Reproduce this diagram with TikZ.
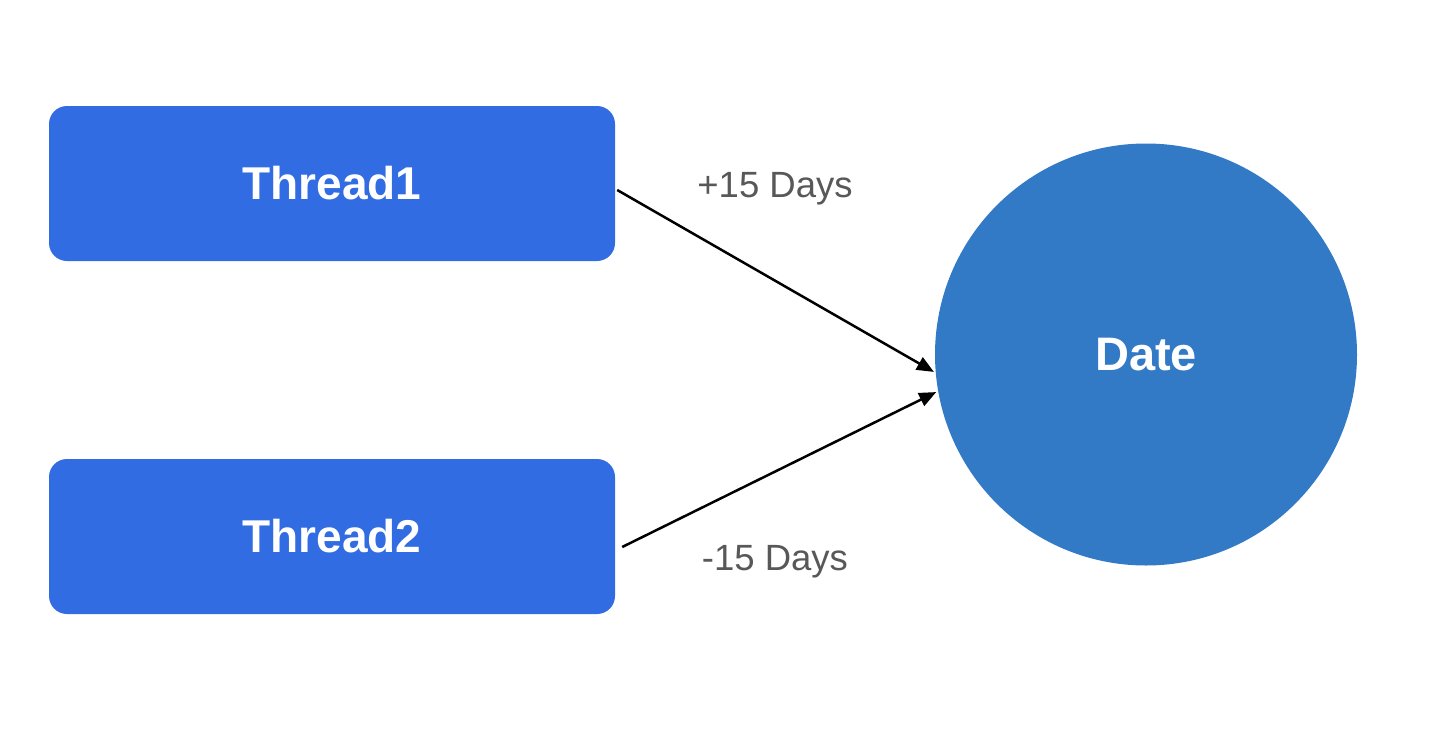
\documentclass[tikz,border=0pt]{standalone}
\usepackage{fontspec}
\setmainfont{Liberation Sans}
\usetikzlibrary{arrows.meta,calc}
\definecolor{boxblue}{RGB}{50,108,227}
\definecolor{circblue}{RGB}{50,121,198}
\definecolor{labgray}{RGB}{88,88,88}
\begin{document}
\begin{tikzpicture}[x=1pt,y=-1pt,
  threadbox/.style={fill=boxblue, rounded corners=18pt, minimum width=566pt, minimum height=155pt, inner sep=0pt, text=white, font=\fontsize{46}{50}\selectfont\bfseries},
  datecirc/.style={circle, fill=circblue, minimum size=422pt, inner sep=0pt, text=white, font=\fontsize{47}{50}\selectfont\bfseries},
  lab/.style={anchor=base, text=labgray, font=\fontsize{36.5}{40}\selectfont, inner sep=0pt},
  conn/.style={line width=2.5pt, shorten >=2pt, -{Triangle[length=17pt,width=14pt]}}]
\useasboundingbox[fill=white] (0,0) rectangle (1450,752);
\node[threadbox] (t1) at (332,183.5) {Thread1};
\node[threadbox] (t2) at (332,536.5) {Thread2};
\node[datecirc] (date) at (1146,354.5) {Date};
\node[lab] (l1) at (775,197) {+15 Days};
\node[lab] (l2) at (775,570) {-15 Days};
\draw[conn] ([xshift=2pt,yshift=-6.5pt]t1.east) -- (date.185);
\draw[conn] ([xshift=7pt,yshift=-10.5pt]t2.east) -- (date.190);
\end{tikzpicture}
\end{document}
